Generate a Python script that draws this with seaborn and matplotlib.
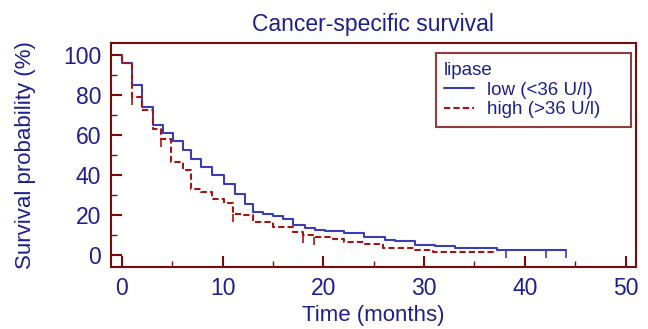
import numpy as np
import pandas as pd
import seaborn as sns
import matplotlib.pyplot as plt
from matplotlib.ticker import MultipleLocator

# Kaplan-Meier steps (time in months, survival in %)
low_time = [0, 0.05, 1, 2, 3.1, 4.1, 5.1, 6.1, 6.9, 7.9, 8.9, 10.1, 11.2, 12.2, 13, 14, 15, 16,
            17, 18.2, 19.2, 20.2, 22, 24, 26.1, 27.1, 29.1, 31.1, 33.1, 37.2, 44.1]
low_surv = [100, 96, 85, 74, 65, 61, 57, 52.5, 48.3, 44.2, 40, 35.8, 30.8, 25.8, 21.7, 20.8, 19.5, 18.3,
            15, 13.8, 12.8, 12, 11, 9.2, 7.8, 7, 5.3, 4.7, 3.7, 2.5, 2.5]
low_censor = [38.1, 42.1, 44.1]

high_time = [0, 0.05, 1, 2, 3.1, 3.9, 4.9, 6.1, 6.9, 7.9, 8.9, 10.1, 11.05, 12, 13, 15, 17, 18, 19,
             21, 22, 24, 25.9, 29.1, 30.9, 37.2]
high_surv = [100, 96, 79, 72.5, 63, 58.3, 46.7, 42.5, 33.3, 31.7, 28.3, 26, 20.8, 20, 16.7, 14.2, 11.7, 10, 9.2,
             8, 6.7, 5.8, 3.7, 2.5, 1.5, 1.5]
high_censor = [1.0, 3.9, 11.05, 18.0, 19.1]

groups = ["low (<36 U/l)", "high (>36 U/l)"]

navy = "#1e1e8c"
frame = "#7a0a0a"
blue = "#3c3cb4"
red = "#a01515"

sns.set_style("white")
plt.rcParams["font.family"] = ["Liberation Sans", "DejaVu Sans"]

fig = plt.figure(figsize=(6.48, 3.29), dpi=100)
ax = fig.add_axes([0.171, 0.188, 0.81, 0.681])

low = pd.DataFrame({"time": low_time, "surv": low_surv})
high = pd.DataFrame({"time": high_time, "surv": high_surv})

sns.lineplot(data=low, x="time", y="surv", ax=ax, color=blue, lw=1.5,
             drawstyle="steps-post", estimator=None, sort=False, label=groups[0])
sns.lineplot(data=high, x="time", y="surv", ax=ax, color=red, lw=1.5,
             drawstyle="steps-post", estimator=None, sort=False, label=groups[1],
             linestyle=(0, (3, 1.5)))


def surv_at(times, survs, t):
    idx = np.searchsorted(times, t, side="right") - 1
    return survs[idx]


for t in low_censor:
    s = surv_at(low_time, low_surv, t)
    ax.vlines(t, s - 4, s, color=blue, lw=1.2)
for t in high_censor:
    s = surv_at(high_time, high_surv, t)
    ax.vlines(t, s - 4, s, color=red, lw=1.2)

ax.set_xlim(-1.1, 51)
ax.set_ylim(-6, 106)
ax.xaxis.set_major_locator(MultipleLocator(10))
ax.xaxis.set_minor_locator(MultipleLocator(5))
ax.yaxis.set_major_locator(MultipleLocator(20))
ax.yaxis.set_minor_locator(MultipleLocator(10))
ax.tick_params(which="major", direction="in", length=8, width=1.5, color=frame,
               labelsize=16.5, labelcolor=navy, pad=7)
ax.tick_params(which="minor", direction="in", length=4, width=1, color=frame)
ax.tick_params(axis="x", which="both", bottom=True)
ax.tick_params(axis="y", which="both", left=True)
for sp in ax.spines.values():
    sp.set_color(frame)
    sp.set_linewidth(1.5)

ax.set_xlabel("Time (months)", fontsize=16, color=navy, labelpad=4)
ax.set_ylabel("Survival probability (%)", fontsize=16, color=navy, labelpad=19)
ax.set_title("Cancer-specific survival", fontsize=16.5, color=navy, pad=9)

leg = ax.legend(title="lipase", loc="upper left", bbox_to_anchor=(0.619, 0.5, 0.373, 0.455),
                mode="expand", fontsize=13.5, title_fontsize=13.5, frameon=True, fancybox=False,
                handlelength=1.6, borderpad=0.45, labelspacing=0.15, handletextpad=0.7,
                borderaxespad=0.0)
leg._legend_box.align = "left"
leg.get_frame().set_edgecolor(frame)
leg.get_frame().set_linewidth(1.5)
leg.get_title().set_color(navy)
for txt in leg.get_texts():
    txt.set_color(navy)

fig.savefig("out.png", dpi=100)
